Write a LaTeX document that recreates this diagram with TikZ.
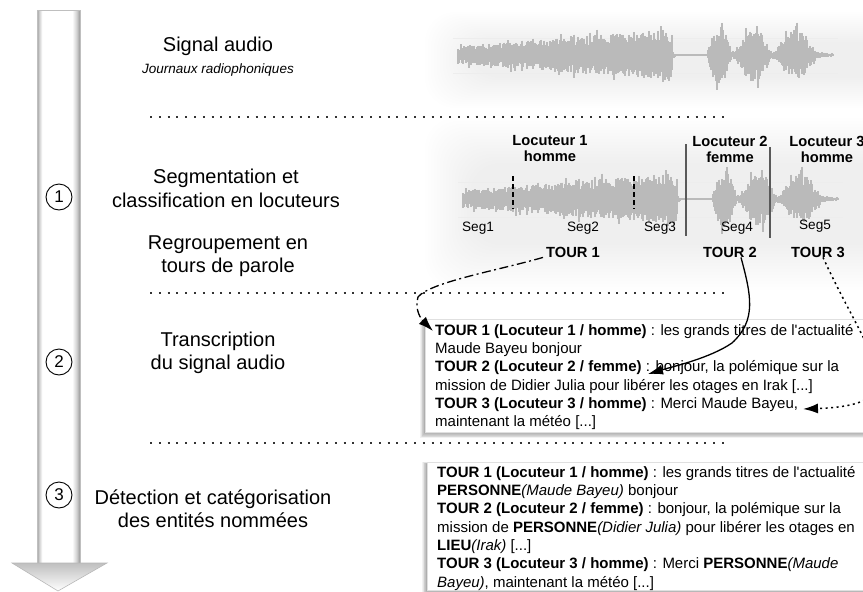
\documentclass[tikz,border=0pt]{standalone}
\usepackage{fontspec}
\setmainfont{Liberation Sans}[Ligatures=TeXOff]
\usetikzlibrary{arrows.meta}
\pgfdeclarehorizontalshading{shaftsh}{100bp}{color(0bp)=(black!40); color(25bp)=(black!40); color(27bp)=(black!22); color(31bp)=(white); color(66bp)=(white); color(71bp)=(black!18); color(74bp)=(black!35); color(75bp)=(black!22); color(100bp)=(black!22)}
\newcommand{\wseg}[4]{%
  \foreach \wk in {0,...,#3}{%
    \pgfmathsetmacro{\wT}{\wk/#3}%
    \pgfmathsetmacro{\wE}{#4}%
    \pgfmathsetmacro{\wU}{\wE*(0.45+0.55*rnd)*ifthenelse(rnd>0.88,1.3,1)}%
    \pgfmathsetmacro{\wD}{\wE*(0.45+0.55*rnd)*ifthenelse(rnd>0.88,1.3,1)}%
    \draw[wave] (#1+\wk,#2-\wU) -- (#1+\wk,#2+\wD);
  }}
\newcommand{\waveform}[2]{%
  \pgfmathsetseed{12}%
  \draw[black!7, line width=0.6pt] (#1-5,#2-17) -- (#1+380,#2-17) (#1-5,#2+18) -- (#1+380,#2+18);
  \wseg{#1}{#2}{214}{9+17*\wT}
  \wseg{#1+215}{#2}{3}{4-3*\wT}
  \draw[wave] (#1+218,#2) -- (#1+249,#2);
  \wseg{#1+249}{#2}{25}{2+28*sin(180*\wT)}
  \wseg{#1+275}{#2}{2}{4}
  \wseg{#1+277}{#2}{37}{2+25*sin(180*\wT)}
  \wseg{#1+315}{#2}{2}{4}
  \wseg{#1+317}{#2}{43}{2+30*sin(180*\wT)*(1-0.45*\wT)}
  \wseg{#1+360}{#2}{15}{3-1.5*\wT}
}
\begin{document}
\begin{tikzpicture}[x=1pt,y=-1pt,
  lbl/.style={font=\fontsize{20}{23.5}\selectfont, align=center},
  sepline/.style={line width=1.3pt, dash pattern=on 2pt off 6.8pt, black!80},
  loc/.style={font=\bfseries\fontsize{14.7}{16}\selectfont, align=center, inner sep=0pt},
  seg/.style={font=\fontsize{13.6}{16}\selectfont, inner sep=0pt},
  num/.style={circle, draw, line width=0.9pt, minimum size=26pt, inner sep=0pt, font=\fontsize{17}{17}\selectfont},
  wave/.style={black!27, line width=1.1pt},
  tbox/.style={align=left, inner sep=0pt, font=\fontsize{15}{18.3}\selectfont},
  boxfr/.style={draw=black!12, fill=white, anchor=north west, inner sep=0pt, minimum width=470pt},
  conn/.style={line width=1.3pt, -{Latex[length=15pt,width=10pt]}},
  dashdot/.style={dash pattern=on 9pt off 3.5pt on 2pt off 3.5pt},
  dots/.style={line width=1.5pt, dash pattern=on 2pt off 3.5pt}
]
\useasboundingbox (0,0) rectangle (863,592);
\fill[white] (0,0) rectangle (863,592);

% soft glows behind waveforms
\foreach \k in {0,...,15}{
  \fill[black, opacity=0.004, rounded corners=30pt] (425+3*\k,12+2*\k) rectangle (905,108-2*\k);
  \fill[black, opacity=0.004, rounded corners=30pt] (425+3*\k,118+3*\k) rectangle (905,290-3*\k);
}

% big process arrow
\fill[shading=shaftsh] (37,10) rectangle (80,564);
\draw[black!25, line width=0.6pt] (37,564) -- (37,10) -- (80,10) -- (80,564);
\path[top color=black!25, bottom color=white, draw=black!28, line width=0.6pt] (12,563) -- (107,563) -- (58,591) -- cycle;

\node[num] (c1) at (59,197) {1};
\node[num] (c2) at (59,362) {2};
\node[num] (c3) at (59,495) {3};

% left labels
\node[lbl] (sig) at (218,46) {Signal audio};
\node[font=\itshape\fontsize{13.5}{16}\selectfont] (journ) at (218,70) {Journaux radiophoniques};
\node[lbl] (segc) at (226,188.5) {Segmentation et\\classification en locuteurs};
\node[lbl] (regr) at (228,256) {Regroupement en\\tours de parole};
\node[lbl] (trans) at (218,353) {Transcription\\du signal audio};
\node[lbl] (detec) at (213,508.5) {Détection et catégorisation\\des entités nommées};

% separators
\draw[sepline] (150,117) -- (726,117);
\draw[sepline] (150,293) -- (726,293);
\draw[sepline] (150,443) -- (726,443);

% waveforms
\waveform{458}{55}
\waveform{463}{199}

% segmentation marks
\draw[line width=1.3pt, dash pattern=on 5pt off 3pt] (513,176) -- (513,209);
\draw[line width=1.3pt, dash pattern=on 5pt off 3pt] (634,176) -- (634,209);
\draw[black!65, line width=1.5pt] (686,144) -- (686,236);
\draw[black!65, line width=1.5pt] (770,147) -- (770,238);

\node[loc] (l1) at (550,149) {Locuteur 1\\homme};
\node[loc] (l2) at (730,149) {Locuteur 2\\femme};
\node[loc] (l3) at (827,149) {Locuteur 3\\homme};

\node[seg] (s1) at (478,228) {Seg1};
\node[seg] (s2) at (583,228) {Seg2};
\node[seg] (s3) at (660,228) {Seg3};
\node[seg] (s4) at (737,228) {Seg4};
\node[seg] (s5) at (815,226) {Seg5};

\node[loc] (t1) at (573,252) {TOUR 1};
\node[loc] (t2) at (730,252) {TOUR 2};
\node[loc] (t3) at (818,252) {TOUR 3};

% box 1
\foreach \k in {1,...,7}{\fill[black, opacity=0.05] (425-0.7*\k,321-0.3*\k) rectangle (880,432+0.9*\k);}
\node[boxfr, minimum height=113pt] (box1) at (425,319) {};
\node[tbox, anchor=north west] (txt1) at (435,324) {\textbf{TOUR 1 (Locuteur 1 / homme)} : les grands titres de l'actualité\\
Maude Bayeu bonjour\\
\textbf{TOUR 2 (Locuteur 2 / femme)} : bonjour, la polémique sur la\\
mission de Didier Julia pour libérer les otages en Irak [...]\\
\textbf{TOUR 3 (Locuteur 3 / homme)} : Merci Maude Bayeu,\\
maintenant la météo [...]};

% box 2
\foreach \k in {1,...,7}{\fill[black, opacity=0.05] (427-0.7*\k,464-0.3*\k) rectangle (880,590+0.9*\k);}
\node[boxfr, minimum height=128pt] (box2) at (427,462) {};
\node[tbox, anchor=north west] (txt2) at (437,466) {\textbf{TOUR 1 (Locuteur 1 / homme)} : les grands titres de l'actualité\\
\textbf{PERSONNE}\textit{(Maude Bayeu)} bonjour\\
\textbf{TOUR 2 (Locuteur 2 / femme)} : bonjour, la polémique sur la\\
mission de \textbf{PERSONNE}\textit{(Didier Julia)} pour libérer les otages en\\
\textbf{LIEU}\textit{(Irak)} [...]\\
\textbf{TOUR 3 (Locuteur 3 / homme)} : Merci \textbf{PERSONNE}\textit{(Maude}\\
\textit{Bayeu)}, maintenant la météo [...]};

% connectors
\coordinate (e1) at (433,331);
\coordinate (e2) at (648,374);
\coordinate (e3) at (803,409);
\draw[conn, dashdot] ([xshift=-3pt]t1.south west) .. controls (500,270) and (430,282) .. (418,297) .. controls (414,310) and (422,320) .. (e1);
\draw[conn] ([xshift=11pt]t2.south) .. controls (751,295) and (757,320) .. (732,343) .. controls (710,358) and (675,366) .. (e2);
\draw[conn, dots] ([xshift=5pt]t3.south) .. controls (870,360) and (920,405) .. (e3);
\end{tikzpicture}
\end{document}
